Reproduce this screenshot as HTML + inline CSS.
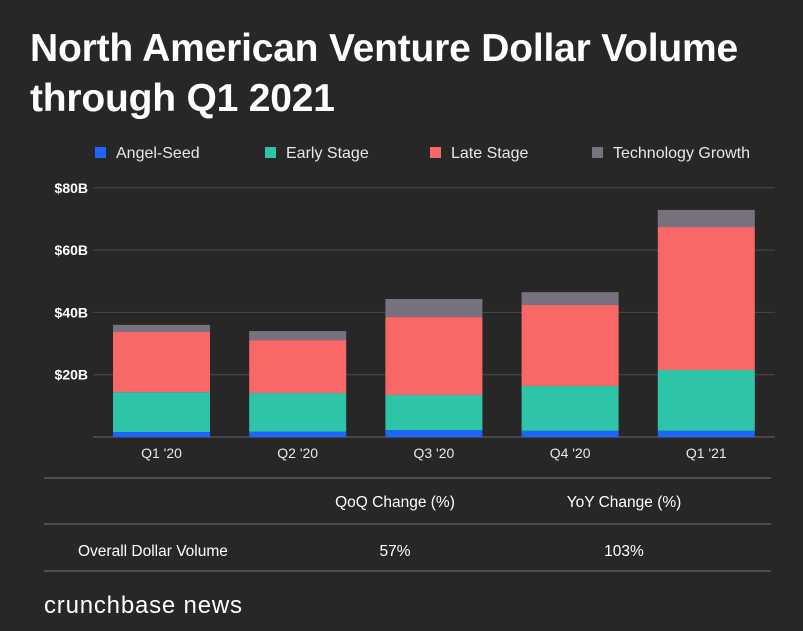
<!DOCTYPE html>
<html><head><meta charset="utf-8"><style>
body{margin:0;background:#272727;width:803px;height:631px;overflow:hidden;font-family:"Liberation Sans",sans-serif;color:#fff}
.t{position:absolute;left:30px;top:24px;font-size:39px;font-weight:bold;line-height:50px;letter-spacing:-0.2px}
svg{position:absolute;left:0;top:0}
text{font-family:"Liberation Sans",sans-serif}
</style></head><body>
<div class="t">North American Venture Dollar Volume<br>through Q1 2021</div>
<svg id="c" width="803" height="631"></svg>
<script>
const categories=["Q1 '20","Q2 '20","Q3 '20","Q4 '20","Q1 '21"];
const seriesNames=["Angel-Seed","Early Stage","Late Stage","Technology Growth"];
const angelSeed=[1.6,1.7,2.2,2.0,2.0];
const earlyStage=[12.8,12.4,11.3,14.4,19.5];
const lateStage=[19.3,17.0,25.0,26.0,45.9];
const techGrowth=[2.3,2.9,5.8,4.1,5.5];
const yTicks=[20,40,60,80];
const yTickLabels=["$20B","$40B","$60B","$80B"];
const colors=["#1a66ff","#2ec4a8","#fa6767","#787280"];
const svg=document.getElementById('c');const NS='http://www.w3.org/2000/svg';
function mk(t,a,p){const e=document.createElementNS(NS,t);for(const k in a)e.setAttribute(k,a[k]);(p||svg).appendChild(e);return e;}
const y0=437,pxPer=62.3/20;const y=v=>y0-v*pxPer;
const x=i=>113+i*136.2;const bw=97;
const lx=[95,265,430,592];
seriesNames.forEach((n,i)=>{
 const r=mk('rect',{x:lx[i],y:147,width:11,height:11,fill:colors[i]});
 
 
 const t=mk('text',{x:lx[i]+21,y:158,fill:'#e8e8e8','font-size':16});t.textContent=n;
 
 
});
yTicks.forEach((v,i)=>{
 const l=mk('line',{x1:93,x2:775,y1:y(v),y2:y(v),stroke:'#4a4a4a','stroke-width':1});
 
 
 const t=mk('text',{x:88,y:y(v)+5,fill:'#fff','font-size':14,'font-weight':'bold','text-anchor':'end'});t.textContent=yTickLabels[i];
 
 
});
const bl=mk('line',{x1:93,x2:775,y1:y0,y2:y0,stroke:'#666','stroke-width':1});


const all=[angelSeed,earlyStage,lateStage,techGrowth];
categories.forEach((c,i)=>{
 let acc=0;
 all.forEach((s,j)=>{
  const r=mk('rect',{x:x(i),y:y(acc+s[i]),width:bw,height:s[i]*pxPer,fill:colors[j]});
  
  
  acc+=s[i];
 });
 const t=mk('text',{x:x(i)+bw/2,y:458,fill:'#e8e8e8','font-size':14,'text-anchor':'middle'});t.textContent=c;
 
 
});
[478,524,571].forEach(yy=>{const l=mk('line',{x1:44,x2:771,y1:yy,y2:yy,stroke:'#777','stroke-width':1});
 
 });
[["QoQ Change (%)",395,507,'middle'],["YoY Change (%)",624,507,'middle'],["Overall Dollar Volume",78,556,'start'],["57%",395,556,'middle'],["103%",624,556,'middle']].forEach(d=>{
 const t=mk('text',{x:d[1],y:d[2],fill:'#fff','font-size':15.5,'text-anchor':d[3]});t.textContent=d[0];
 
 
});
const b=mk('text',{x:44,y:613,fill:'#fff','font-size':24,'letter-spacing':'0.8'});b.textContent='crunchbase news';


</script>
</body></html>
